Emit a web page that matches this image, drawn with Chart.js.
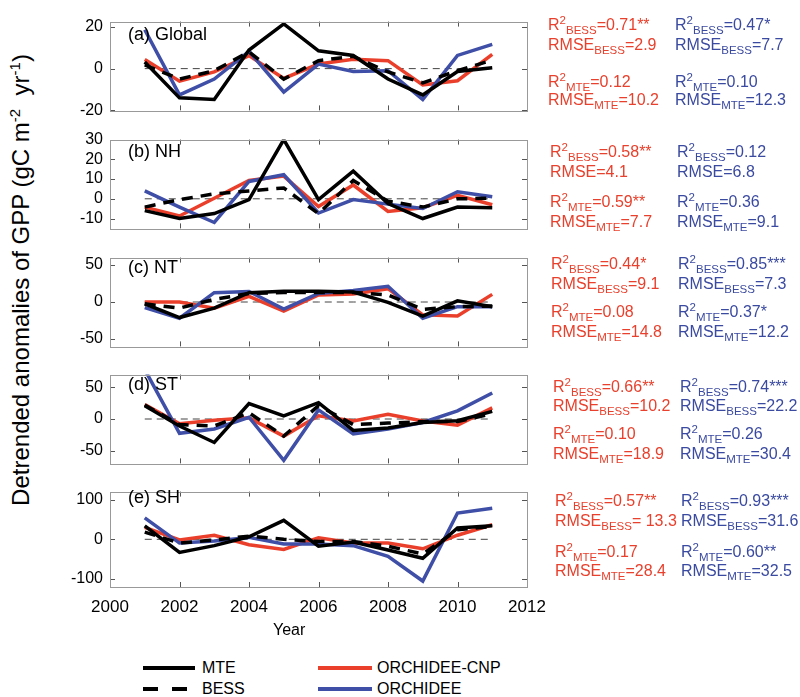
<!DOCTYPE html>
<html><head><meta charset="utf-8">
<script src="https://cdn.jsdelivr.net/npm/chart.js@4/dist/chart.umd.min.js"></script>
<style>
body{margin:0;width:800px;height:697px;background:#fff;position:relative;overflow:hidden;font-family:"Liberation Sans",Arial,sans-serif;}
.panel{position:absolute;left:60px;width:512px;}
.t{position:absolute;font-size:16px;white-space:nowrap;line-height:18px;}
.r{color:#e8402c}.b{color:#3a4aa0}.k{color:#000}
sub{font-size:11.5px;vertical-align:-4px;line-height:0}
sup{font-size:11.5px;vertical-align:6px;line-height:0}
.lab{position:absolute;font-size:18px;line-height:18px;white-space:nowrap;color:#000}
.ytitle{position:absolute;font-size:24px;white-space:pre;color:#000;transform:translate(-50%,-50%) rotate(-90deg);left:21px;top:280px;}
.ytitle sup{font-size:15px;vertical-align:9px}
.lg{position:absolute;height:4px}
</style></head>
<body>
<script>
// ---- data ----
const years = [2001,2002,2003,2004,2005,2006,2007,2008,2009,2010,2011];
const xTicks = [2000,2002,2004,2006,2008,2010,2012];

const mteGlobal = [3.2,-14,-14.8,8.9,21.4,8.5,6.3,-5,-12.6,-1.4,0.4];
const bessGlobal = [1.8,-5,-1,8,-5,3.8,5.9,-1.6,-6.8,-1,4.1];
const cnpGlobal = [4.4,-6,-1.6,6.2,-4.7,2.2,4.5,3.8,-7.8,-5.8,6.8];
const orcGlobal = [18.6,-12.6,-5,8.2,-11.2,2.2,-1.4,-1,-14.8,6.3,11.6];

const mteNH = [-6,-10,-7.5,-0.4,30,-0.4,14,-2.4,-10,-4.2,-4.5];
const bessNH = [-4.2,-0.4,2.5,4,5.5,-7.5,9.3,-1.2,-4.2,0,0.3];
const cnpNH = [-4.2,-8.7,0.3,9.3,11.5,-3.9,7,-6.4,-4.5,1.8,-3];
const orcNH = [4,-4.2,-12,8.8,12.2,-7.2,-0.4,-2.7,-4.9,3.6,1];

const mteNT = [-2.4,-21,-8.3,12.6,14.6,14.6,13.4,-0.4,-19,1.6,-6.3];
const bessNT = [-2.4,-8.3,3.6,11.5,13,13,13,9.5,-10,-6.3,-5.5];
const cnpNT = [0,0,-8.3,7.5,-12.3,9.5,10.7,18,-17.4,-19,10.3];
const orcNT = [-7.5,-22,12.6,14.2,-9.5,11.5,15.4,21.3,-22,-6.3,-6.3];

const mteST = [21,-11,-37,24.4,5,25.8,-18,-14.3,-5.5,-2.8,12];
const bessST = [22,-8.8,-11,9.7,-27,21,-8.8,-6.5,-4,-4,8.3];
const cnpST = [23,-7.4,-1.8,1.8,-27,5,-3.2,7.4,-3.2,-9.7,17.5];
const orcST = [78,-22.6,-15.7,2.8,-65,14.3,-23.5,-15.7,-5.5,12.9,41];

const mteSH = [34,-33,-16,6.3,47.6,-17.5,-7,-27,-47.6,28.6,34];
const bessSH = [18,-9.5,-1.6,8,0,-5.5,-5.5,-17.5,-37,24,32];
const cnpSH = [30,-1.6,10.3,-13.5,-25.4,4,-9.5,-9.5,-23.8,10.3,36.5];
const orcSH = [54,-9.5,-4,4.8,-12,-12,-16,-43,-105,66,78];

const zeroLine = [0,0,0,0,0,0,0,0,0,0,0];

const panelNames = ["(a) Global","(b) NH","(c) NT","(d) ST","(e) SH"];
const yTicksA = [-20,0,20];
const yTicksB = [-10,0,10,20,30];
const yTicksC = [-50,0,50];
const yTicksD = [-50,0,50];
const yTicksE = [-100,0,100];
const yRanges = [[-20,22.5],[-15,30],[-60,60],[-70,70],[-120,120]];

const stats = [
 {red:["R<sup>2</sup><sub>BESS</sub>=0.71**","RMSE<sub>BESS</sub>=2.9","R<sup>2</sup><sub>MTE</sub>=0.12","RMSE<sub>MTE</sub>=10.2"],
  blue:["R<sup>2</sup><sub>BESS</sub>=0.47*","RMSE<sub>BESS</sub>=7.7","R<sup>2</sup><sub>MTE</sub>=0.10","RMSE<sub>MTE</sub>=12.3"]},
 {red:["R<sup>2</sup><sub>BESS</sub>=0.58**","RMSE=4.1","R<sup>2</sup><sub>MTE</sub>=0.59**","RMSE<sub>MTE</sub>=7.7"],
  blue:["R<sup>2</sup><sub>BESS</sub>=0.12","RMSE=6.8","R<sup>2</sup><sub>MTE</sub>=0.36","RMSE<sub>MTE</sub>=9.1"]},
 {red:["R<sup>2</sup><sub>BESS</sub>=0.44*","RMSE<sub>BESS</sub>=9.1","R<sup>2</sup><sub>MTE</sub>=0.08","RMSE<sub>MTE</sub>=14.8"],
  blue:["R<sup>2</sup><sub>BESS</sub>=0.85***","RMSE<sub>BESS</sub>=7.3","R<sup>2</sup><sub>MTE</sub>=0.37*","RMSE<sub>MTE</sub>=12.2"]},
 {red:["R<sup>2</sup><sub>BESS</sub>=0.66**","RMSE<sub>BESS</sub>=10.2","R<sup>2</sup><sub>MTE</sub>=0.10","RMSE<sub>MTE</sub>=18.9"],
  blue:["R<sup>2</sup><sub>BESS</sub>=0.74***","RMSE<sub>BESS</sub>=22.2","R<sup>2</sup><sub>MTE</sub>=0.26","RMSE<sub>MTE</sub>=30.4"]},
 {red:["R<sup>2</sup><sub>BESS</sub>=0.57**","RMSE<sub>BESS</sub>= 13.3","R<sup>2</sup><sub>MTE</sub>=0.17","RMSE<sub>MTE</sub>=28.4"],
  blue:["R<sup>2</sup><sub>BESS</sub>=0.93***","RMSE<sub>BESS</sub>=31.6","R<sup>2</sup><sub>MTE</sub>=0.60**","RMSE<sub>MTE</sub>=32.5"]}
];

// ---- layout ----
const plotTops = [15,133,251,368,485];
const plotH = 102;
const statY = [[25,45,82,100],[152,172,202,222],[264,284,312,332],[387,406,434,454],[501,521,552,571]];
const statXr = [548,550,551,553,555];
const statXb = [675,677,678,680,681];
const labelY = [34,151,267,384,497];

const series = [
  [mteGlobal,bessGlobal,cnpGlobal,orcGlobal,yTicksA],
  [mteNH,bessNH,cnpNH,orcNH,yTicksB],
  [mteNT,bessNT,cnpNT,orcNT,yTicksC],
  [mteST,bessST,cnpST,orcST,yTicksD],
  [mteSH,bessSH,cnpSH,orcSH,yTicksE]
];

Chart.defaults.font.family = '"Liberation Sans", Arial, sans-serif';
Chart.defaults.color = '#000';

const boxPlugin = {
  id:'box',
  afterDatasetsDraw(chart){
    const {ctx, chartArea:a, scales:{x,y}} = chart;
    ctx.save();
    ctx.strokeStyle = '#555';
    ctx.lineWidth = 1;
    const L = 5;
    ctx.beginPath();
    xTicks.forEach(v=>{
      if(v<=x.min||v>=x.max) return;
      const px = Math.round(x.getPixelForValue(v))+0.5;
      ctx.moveTo(px,a.top); ctx.lineTo(px,a.top+L);
      ctx.moveTo(px,a.bottom); ctx.lineTo(px,a.bottom-L);
    });
    y.ticks.forEach(t=>{
      const py = Math.round(y.getPixelForValue(t.value))+0.5;
      ctx.moveTo(a.left,py); ctx.lineTo(a.left+L,py);
      ctx.moveTo(a.right,py); ctx.lineTo(a.right-L,py);
    });
    ctx.stroke();
    ctx.strokeStyle = '#999';
    ctx.strokeRect(Math.round(a.left)+0.5, Math.round(a.top)+0.5, Math.round(a.right-a.left), Math.round(a.bottom-a.top));
    ctx.restore();
  }
};

function pts(arr){ return years.map((yr,i)=>({x:yr,y:arr[i]})); }

series.forEach((s,p)=>{
  const last = p===4;
  const div = document.createElement('div');
  div.className='panel';
  div.style.top = (plotTops[p]-10)+'px';
  div.style.height = (plotH+10+(last?35:10))+'px';
  const cv = document.createElement('canvas');
  div.appendChild(cv);
  document.body.appendChild(div);
  const tickVals = s[4];
  new Chart(cv,{
    type:'line',
    data:{datasets:[
      {data:pts(s[0]),borderColor:'#000',borderWidth:3.5,pointRadius:0,order:0,tension:0},
      {data:pts(s[1]),borderColor:'#000',borderWidth:3.5,borderDash:[11,8],pointRadius:0,order:1,tension:0},
      {data:pts(s[2]),borderColor:'#ea3f2b',borderWidth:3.5,pointRadius:0,order:3,tension:0},
      {data:pts(s[3]),borderColor:'#3f4ea6',borderWidth:3.5,pointRadius:0,order:2,tension:0},
      {data:pts(zeroLine),borderColor:'#444',borderWidth:1,borderDash:[7,5],pointRadius:0,order:4}
    ]},
    options:{
      responsive:true, maintainAspectRatio:false, animation:false,
      layout:{padding:{top:10,bottom:last?0:10,left:0,right:45}},
      plugins:{legend:{display:false},tooltip:{enabled:false}},
      scales:{
        x:{type:'linear',min:2000,max:2012,
           afterBuildTicks(sc){sc.ticks = xTicks.map(v=>({value:v}));},
           afterFit(sc){sc.height = last?35:0;},
           grid:{display:false,drawTicks:false},border:{display:false},
           ticks:{display:last,font:{size:17},padding:10,color:'#000',maxRotation:0,autoSkip:false,callback:v=>String(v)}},
        y:{min:yRanges[p][0],max:yRanges[p][1],
           afterBuildTicks(sc){sc.ticks = tickVals.map(v=>({value:v}));},
           afterFit(sc){sc.width = 50;},
           grid:{display:false,drawTicks:false},border:{display:false},
           ticks:{font:{size:16},padding:7,color:'#000'}}
      }
    },
    plugins:[boxPlugin]
  });

  const lab = document.createElement('div');
  lab.className='lab';
  lab.style.left='128px'; lab.style.top=(labelY[p]-9)+'px';
  lab.textContent = panelNames[p];
  document.body.appendChild(lab);

  const st = stats[p];
  for(let i=0;i<4;i++){
    const r = document.createElement('div');
    r.className='t r'; r.style.left=statXr[p]+'px'; r.style.top=(statY[p][i]-9)+'px';
    r.innerHTML = st.red[i]; document.body.appendChild(r);
    const b = document.createElement('div');
    b.className='t b'; b.style.left=statXb[p]+'px'; b.style.top=(statY[p][i]-9)+'px';
    b.innerHTML = st.blue[i]; document.body.appendChild(b);
  }
});
</script>
<div class="ytitle">Detrended anomalies of GPP (gC m<sup>-2</sup>  yr<sup>-1</sup>)</div>
<div class="lab" style="left:273px;top:621px;font-size:16px">Year</div>
<div class="lg" style="left:143px;top:666px;width:52px;background:#000"></div>
<div class="lg" style="left:143px;top:687px;width:15px;background:#000"></div>
<div class="lg" style="left:172px;top:687px;width:15px;background:#000"></div>
<div class="lg" style="left:318px;top:666px;width:54px;background:#ea3f2b"></div>
<div class="lg" style="left:318px;top:687px;width:54px;background:#3f4ea6"></div>
<div class="lab" style="left:202px;top:659px;font-size:16px">MTE</div>
<div class="lab" style="left:202px;top:680px;font-size:16px">BESS</div>
<div class="lab" style="left:377px;top:659px;font-size:16px">ORCHIDEE-CNP</div>
<div class="lab" style="left:377px;top:680px;font-size:16px">ORCHIDEE</div>
</body></html>
